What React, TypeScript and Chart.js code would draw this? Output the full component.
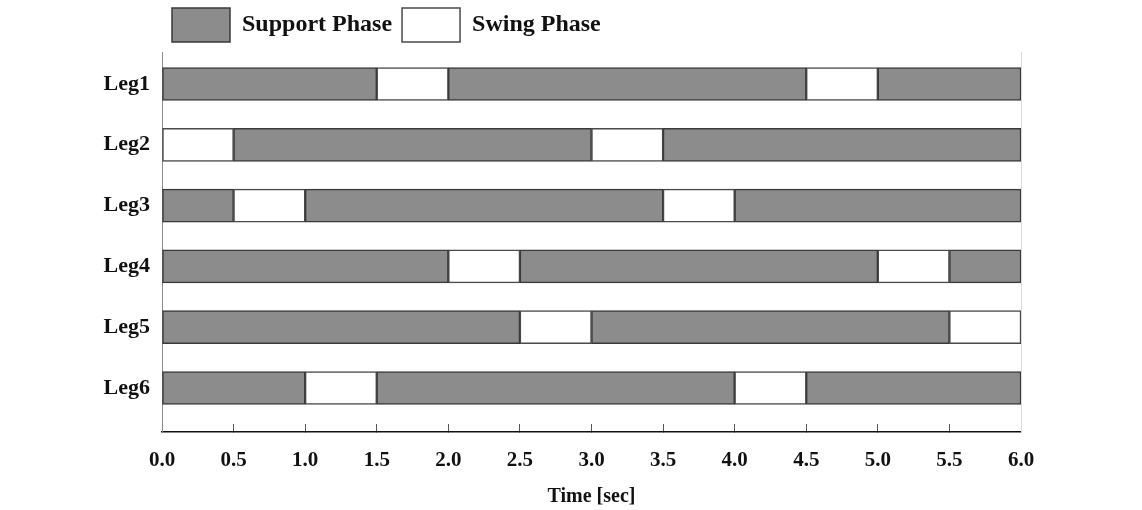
import React, { useEffect, useRef } from 'react';
import { Chart, registerables } from 'chart.js';

Chart.register(...registerables);

// ---- data ----
const legs = ['Leg1', 'Leg2', 'Leg3', 'Leg4', 'Leg5', 'Leg6'];
const legPositions = [1, 2, 3, 4, 5, 6];
// phase boundaries in seconds; phases alternate starting with firstPhase
const leg1Bounds = [0, 1.5, 2.0, 4.5, 5.0, 6.0];
const leg2Bounds = [0, 0.5, 3.0, 3.5, 6.0];
const leg3Bounds = [0, 0.5, 1.0, 3.5, 4.0, 6.0];
const leg4Bounds = [0, 2.0, 2.5, 5.0, 5.5, 6.0];
const leg5Bounds = [0, 2.5, 3.0, 5.5, 6.0];
const leg6Bounds = [0, 1.0, 1.5, 4.0, 4.5, 6.0];
const firstPhase = ['support', 'swing', 'support', 'support', 'support', 'support'];
const phaseKeys = ['support', 'swing'];
const phaseLabels = ['Support Phase', 'Swing Phase'];
const xTickValues = [0, 0.5, 1.0, 1.5, 2.0, 2.5, 3.0, 3.5, 4.0, 4.5, 5.0, 5.5, 6.0];
const xTitle = 'Time [sec]';

// ---- styles ----
const phaseFill: Record<string, string> = { support: '#8c8c8c', swing: '#ffffff' };
const phaseBorder: Record<string, string> = { support: '#3a3a3a', swing: '#4a4a4a' };
const FONT = "'Liberation Serif', 'Times New Roman', serif";
const Y_MIN = 0.4737;
const Y_MAX = 6.7237;

function buildDatasets() {
  const allBounds = [leg1Bounds, leg2Bounds, leg3Bounds, leg4Bounds, leg5Bounds, leg6Bounds];
  const segs: Record<string, any[][]> = { support: [], swing: [] };
  allBounds.forEach((b, li) => {
    const counters: Record<string, number> = { support: 0, swing: 0 };
    let phase = firstPhase[li];
    for (let i = 0; i < b.length - 1; i++) {
      const k = counters[phase]++;
      if (!segs[phase][k]) segs[phase][k] = [];
      segs[phase][k].push({ x: [b[i], b[i + 1]], y: legPositions[li] });
      phase = phase === 'support' ? 'swing' : 'support';
    }
  });
  const datasets: any[] = [];
  phaseKeys.forEach((p, pi) => {
    segs[p].forEach((data, k) => {
      datasets.push({
        label: phaseLabels[pi],
        showInLegend: k === 0,
        data,
        backgroundColor: phaseFill[p],
        borderColor: phaseBorder[p],
        borderWidth: 1.5,
        borderSkipped: false,
        grouped: false,
        barThickness: 33,
        yAxisID: 'y',
      });
    });
  });
  return datasets;
}

export default function App() {
  const ref = useRef<HTMLCanvasElement | null>(null);
  useEffect(() => {
    if (!ref.current) return;
    const chart = new Chart(ref.current, {
      type: 'bar',
      data: { datasets: buildDatasets() },
      options: {
        animation: false,
        responsive: true,
        maintainAspectRatio: false,
        indexAxis: 'y',
        layout: { padding: { top: -2, right: 121, bottom: 0, left: 0 } },
        plugins: {
          tooltip: { enabled: false },
          legend: {
            display: true,
            position: 'top',
            align: 'start',
            fullSize: false,
            labels: {
              boxWidth: 58,
              boxHeight: 34,
              padding: 10,
              color: '#111',
              font: { family: FONT, size: 24, weight: 'bold' },
              filter: (item: any, data: any) => !!data.datasets[item.datasetIndex].showInLegend,
            },
          },
        },
        scales: {
          x: {
            type: 'linear',
            min: 0,
            max: 6,
            afterBuildTicks: (scale: any) => {
              scale.ticks = xTickValues.map((v) => ({ value: v }));
            },
            afterFit: (scale: any) => {
              scale.height = 78;
            },
            ticks: {
              autoSkip: false,
              maxRotation: 0,
              padding: 24,
              color: '#111',
              font: { family: FONT, size: 21, weight: 'bold' },
              callback: (v: any) => Number(v).toFixed(1),
            },
            grid: {
              display: true,
              drawOnChartArea: false,
              drawTicks: true,
              tickLength: -8,
              color: '#555',
              lineWidth: 1,
            },
            border: { display: true, color: '#111', width: 1.5 },
            title: {
              display: true,
              text: xTitle,
              color: '#111',
              font: { family: FONT, size: 20, weight: 'bold' },
              padding: { top: 0, bottom: 1 },
            },
          },
          y: {
            type: 'linear',
            position: 'left',
            reverse: true,
            offset: false,
            min: Y_MIN,
            max: Y_MAX,
            afterBuildTicks: (scale: any) => {
              scale.ticks = legPositions.map((v) => ({ value: v }));
            },
            afterFit: (scale: any) => {
              scale.width = 162;
            },
            ticks: {
              autoSkip: false,
              padding: 12,
              color: '#111',
              font: { family: FONT, size: 22, weight: 'bold' },
              callback: (v: any) => legs[legPositions.indexOf(Number(v))] ?? '',
            },
            grid: { display: false, drawTicks: false },
            border: { display: true, color: '#8a8a8a', width: 1 },
          },
          yRight: {
            type: 'linear',
            position: 'right',
            reverse: true,
            offset: false,
            min: Y_MIN,
            max: Y_MAX,
            afterFit: (scale: any) => {
              scale.width = 0;
            },
            ticks: { display: false },
            grid: { display: false, drawTicks: false },
            border: { display: true, color: '#dadada', width: 1 },
          },
        },
      },
    } as any);
    return () => chart.destroy();
  }, []);
  return (
    <div style={{ position: 'absolute', left: 0, top: 0, width: 1142, height: 510, background: '#fff' }}>
      <canvas ref={ref} />
    </div>
  );
}
